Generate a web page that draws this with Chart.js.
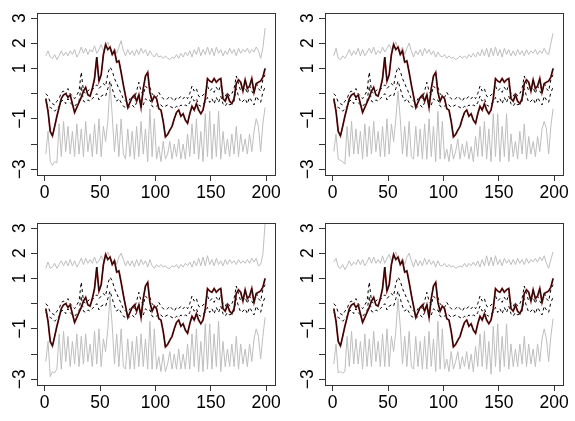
<!DOCTYPE html>
<html>
<head>
<meta charset="utf-8">
<script src="https://cdn.jsdelivr.net/npm/chart.js@4/dist/chart.umd.min.js"></script>
<style>
  body { margin: 0; background: #fff; }
  .panel { position: absolute; width: 288px; height: 211px; }
</style>
</head>
<body>
<div class="panel" style="left:0;top:0"><canvas id="p1" width="288" height="211"></canvas></div>
<div class="panel" style="left:288px;top:0"><canvas id="p2" width="288" height="211"></canvas></div>
<div class="panel" style="left:0;top:210px"><canvas id="p3" width="288" height="211"></canvas></div>
<div class="panel" style="left:288px;top:210px"><canvas id="p4" width="288" height="211"></canvas></div>
<script>
// time index 1, 3, 5, ..., 199
const xs = Array.from({ length: 100 }, (_, i) => 1 + 2 * i);

const xTicks = [0, 50, 100, 150, 200];
const yTicks = [-3, -2, -1, 0, 1, 2, 3];
const yLabels = [3, 2, 1, -1, -3];

// solid line (same in all panels)
const solid = [
  -0.2, -0.7, -1.5, -1.68, -1.3, -0.9, -0.55, -0.2, -0.05, 0.0,
  -0.15, -0.05, -0.4, -0.75, -0.55, -0.35, -0.15, 0.1, 0.25, -0.05,
  -0.1, 0.2, 0.6, 1.45, 0.5, 0.75, 1.55, 1.95, 1.75, 1.85,
  1.55, 1.7, 1.25, 1.3, 0.85, 0.35, -0.1, -0.55, -0.35, -0.15,
  -0.05, -0.3, -0.05, -0.55, 0.2, 0.7, 0.85, 0.05, -0.3, -0.1,
  -0.2, -0.6, -0.65, -1.1, -1.72, -1.62, -1.45, -1.3, -1.0, -0.75,
  -0.65, -0.9, -0.8, -1.05, -1.18, -0.8, -0.5, -0.65, -0.4, -0.65,
  -0.8, -0.65, -0.2, 0.6, 0.5, 0.45, 0.6, 0.45, 0.55, 0.6,
  -0.2, -0.3, -0.05, -0.3, -0.4, -0.2, 0.4, 0.55, 0.45, 0.1,
  0.55, 0.2, 0.3, 0.6, 0.05, 0.4, 0.45, 0.5, 0.65, 1.0
];

// dashed lines
const dashHigh = [
  0.0, -0.1, -0.35, -0.4, -0.45, -0.3, -0.2, 0.05, 0.1, -0.05,
  0.2, 0.0, -0.1, -0.2, -0.05, 0.1, 0.85, 0.1, 0.0, 0.1,
  0.2, 0.15, 0.25, 0.35, 0.2, 0.3, 0.4, 0.3, 0.8, 1.05,
  0.9, 0.6, 0.4, 0.2, 0.0, -0.2, -0.3, -0.35, -0.2, -0.1,
  -0.2, 0.1, 0.45, 0.1, -0.05, 0.3, 0.2, 0.25, 0.0, -0.1,
  -0.15, 0.05, -0.1, -0.2, -0.25, -0.2, -0.1, -0.2, -0.3, -0.15,
  -0.2, -0.1, -0.2, -0.1, -0.2, 0.0, 0.3, 0.1, 0.2, -0.1,
  -0.15, -0.05, 0.0, 0.3, 0.1, 0.2, 0.05, 0.25, 0.1, 0.35,
  0.0, -0.1, 0.05, -0.1, 0.0, 0.2, 0.7, 0.4, 0.1, 0.15,
  0.25, 0.0, 0.3, 0.1, -0.05, 0.45, 0.2, 0.1, 0.55, 0.75
];
const dashLow = [
  -0.35, -0.5, -0.55, -0.6, -0.7, -0.6, -0.5, -0.3, -0.25, -0.4,
  -0.2, -0.35, -0.45, -0.5, -0.4, -0.3, 0.3, -0.3, -0.35, -0.25,
  -0.3, -0.2, -0.1, 0.0, -0.25, -0.1, -0.05, -0.1, 0.2, 0.5,
  0.2, -0.1, -0.3, -0.2, -0.35, -0.5, -0.55, -0.6, -0.5, -0.45,
  -0.55, -0.35, 0.0, -0.35, -0.45, -0.2, -0.3, -0.25, -0.5, -0.55,
  -0.5, -0.4, -0.45, -0.55, -0.5, -0.45, -0.5, -0.55, -0.6, -0.5,
  -0.55, -0.45, -0.5, -0.45, -0.5, -0.35, -0.1, -0.3, -0.2, -0.45,
  -0.5, -0.4, -0.35, -0.15, -0.35, -0.2, -0.4, -0.15, -0.35, -0.1,
  -0.4, -0.5, -0.35, -0.45, -0.4, -0.3, 0.2, -0.1, -0.35, -0.3,
  -0.2, -0.4, -0.15, -0.3, -0.45, -0.1, -0.25, -0.35, 0.05, 0.25
];

// grey bands, one pair per panel
const upper1 = [
  1.5, 1.7, 1.45, 1.4, 1.55, 1.35, 1.5, 1.7, 1.5, 1.65,
  1.5, 1.7, 1.55, 1.75, 1.45, 1.6, 1.85, 1.6, 1.8, 1.55,
  1.75, 1.65, 1.9, 1.6, 1.75, 1.95, 1.7, 1.9, 2.05, 1.75,
  1.6, 1.8, 1.6, 1.85, 2.1, 1.7, 1.5, 1.75, 1.55, 1.7,
  1.5, 1.75, 1.55, 1.8, 1.6, 1.75, 1.5, 1.7, 1.55, 1.45,
  1.6, 1.45, 1.5, 1.4, 1.5, 1.4, 1.35, 1.45, 1.4, 1.55,
  1.4, 1.6, 1.45, 1.65, 1.5, 1.7, 1.45, 1.75, 1.55, 1.85,
  1.5, 1.75, 1.55, 1.85, 1.55, 1.8, 1.5, 1.85, 1.6, 1.75,
  1.5, 1.7, 1.55, 1.8, 1.6, 1.75, 1.5, 1.8, 1.6, 1.75,
  1.65, 1.8, 1.6, 1.75, 1.65, 1.85, 1.7, 1.4, 1.8, 2.6
];
const lower1 = [
  -2.4, -1.5, -2.7, -2.85, -2.7, -2.75, -1.2, -2.5, -1.1, -2.3,
  -1.3, -2.4, -1.5, -2.5, -1.2, -2.4, -1.4, -2.5, -1.1, -2.3,
  -1.6, -2.5, -1.2, -2.4, -1.0, -2.5, -1.3, -1.9, -1.1, 0.4,
  -0.9, -2.3, -1.2, -2.5, -1.0, -2.4, -2.6, -1.4, -2.5, -1.5,
  -2.6, -1.3, -2.5, -1.1, -2.4, -1.4, -2.7, -0.6, -2.5, -1.0,
  -2.6, -2.1, -2.7, -1.9, -2.6, -2.4, -1.9, -2.6, -2.0, -2.5,
  -1.8, -2.6, -2.0, -2.6, -1.6, -2.5, -1.2, -2.4, -1.0, -2.6,
  -1.5, -2.7, -0.8, -2.5, -0.7, -2.6, -1.2, -2.5, -0.7, -2.6,
  -1.5, -2.4, -1.8, -2.5, -1.6, -2.4, -1.3, -2.5, -1.6, -2.3,
  -1.8, -2.4, -1.6, -2.3, -1.5, -1.0, -1.3, -2.3, -1.2, -0.55
];
const upper2 = [
  1.5, 1.8, 1.4, 1.35, 1.5, 1.4, 1.55, 1.75, 1.5, 1.7,
  1.55, 1.8, 1.5, 1.75, 1.5, 1.65, 1.8, 1.6, 1.85, 1.55,
  1.7, 1.6, 1.85, 1.65, 1.8, 1.95, 1.75, 1.85, 2.05, 1.8,
  1.65, 1.85, 1.55, 1.8, 2.0, 1.7, 1.45, 1.7, 1.55, 1.75,
  1.5, 1.8, 1.6, 1.75, 1.55, 1.7, 1.45, 1.65, 1.5, 1.45,
  1.55, 1.4, 1.5, 1.4, 1.45, 1.35, 1.4, 1.5, 1.4, 1.5,
  1.4, 1.55, 1.45, 1.6, 1.45, 1.65, 1.5, 1.75, 1.5, 1.8,
  1.45, 1.8, 1.5, 1.85, 1.5, 1.75, 1.45, 1.8, 1.55, 1.75,
  1.5, 1.7, 1.5, 1.75, 1.55, 1.7, 1.5, 1.75, 1.55, 1.7,
  1.6, 1.75, 1.55, 1.7, 1.6, 1.8, 1.6, 1.55, 2.0, 2.4
];
const lower2 = [
  -2.3, -1.6, -2.6, -2.65, -2.7, -2.8, -1.3, -2.5, -1.1, -2.4,
  -1.4, -2.4, -1.5, -2.6, -1.2, -2.5, -1.3, -2.4, -1.1, -2.3,
  -1.5, -2.5, -1.3, -2.5, -1.0, -2.4, -1.2, -1.9, -1.0, 0.1,
  -1.0, -2.4, -1.3, -2.5, -1.1, -2.5, -2.6, -1.3, -2.5, -1.4,
  -2.6, -1.2, -2.6, -1.0, -2.5, -1.3, -2.7, -0.7, -2.6, -1.1,
  -2.6, -2.2, -2.7, -2.0, -2.6, -2.3, -1.8, -2.6, -2.0, -2.5,
  -1.9, -2.6, -2.1, -2.7, -1.7, -2.5, -1.3, -2.5, -1.1, -2.6,
  -1.4, -2.7, -0.8, -2.5, -0.8, -2.7, -1.3, -2.5, -0.8, -2.7,
  -1.6, -2.5, -1.9, -2.6, -1.5, -2.4, -1.2, -2.6, -1.7, -2.4,
  -1.9, -2.5, -1.7, -2.3, -1.4, -1.1, -1.4, -2.4, -1.3, -0.6
];
const upper3 = [
  1.4, 1.65, 1.4, 1.45, 1.6, 1.4, 1.55, 1.7, 1.5, 1.7,
  1.5, 1.75, 1.5, 1.7, 1.45, 1.6, 1.8, 1.55, 1.8, 1.6,
  1.75, 1.6, 1.85, 1.6, 1.7, 1.9, 1.7, 1.85, 2.05, 1.8,
  1.6, 1.75, 1.55, 1.85, 2.0, 1.75, 1.5, 1.7, 1.5, 1.7,
  1.45, 1.75, 1.5, 1.75, 1.55, 1.7, 1.45, 1.75, 1.5, 1.4,
  1.55, 1.45, 1.55, 1.45, 1.5, 1.4, 1.4, 1.5, 1.45, 1.55,
  1.4, 1.55, 1.45, 1.6, 1.5, 1.65, 1.45, 1.7, 1.5, 1.8,
  1.5, 1.85, 1.5, 1.9, 1.55, 1.75, 1.5, 1.8, 1.55, 1.7,
  1.5, 1.75, 1.55, 1.75, 1.6, 1.7, 1.55, 1.75, 1.6, 1.7,
  1.6, 1.75, 1.6, 1.8, 1.65, 1.8, 1.5, 1.55, 1.95, 3.2
];
const lower3 = [
  -2.3, -1.5, -2.9, -2.7, -2.75, -2.6, -1.2, -2.6, -1.1, -2.3,
  -1.3, -2.5, -1.5, -2.4, -1.2, -2.5, -1.3, -2.4, -1.2, -2.3,
  -1.6, -2.5, -1.1, -2.4, -1.0, -2.5, -1.4, -1.9, -1.0, 0.3,
  -0.9, -2.4, -1.2, -2.5, -1.0, -2.5, -2.6, -1.4, -2.6, -1.5,
  -2.6, -1.3, -2.5, -1.2, -2.5, -1.4, -2.6, -0.7, -2.6, -1.0,
  -2.6, -2.1, -2.7, -2.0, -2.7, -2.4, -1.9, -2.6, -2.0, -2.6,
  -1.8, -2.6, -2.0, -2.6, -1.6, -2.6, -1.2, -2.5, -1.0, -2.7,
  -1.5, -2.7, -0.8, -2.6, -0.8, -2.6, -1.2, -2.5, -0.7, -2.7,
  -1.5, -2.5, -1.8, -2.5, -1.6, -2.5, -1.3, -2.6, -1.6, -2.4,
  -1.8, -2.5, -1.6, -2.3, -1.4, -1.0, -1.3, -2.2, -1.3, -0.55
];
const upper4 = [
  1.65, 1.8, 1.45, 1.4, 1.55, 1.35, 1.5, 1.7, 1.5, 1.65,
  1.55, 1.75, 1.55, 1.75, 1.5, 1.65, 1.85, 1.6, 1.85, 1.6,
  1.75, 1.6, 1.9, 1.6, 1.8, 1.95, 1.7, 1.9, 2.05, 1.75,
  1.6, 1.8, 1.55, 1.85, 2.0, 1.7, 1.45, 1.75, 1.5, 1.7,
  1.5, 1.8, 1.55, 1.75, 1.55, 1.7, 1.45, 1.7, 1.5, 1.5,
  1.6, 1.45, 1.55, 1.45, 1.5, 1.4, 1.45, 1.5, 1.45, 1.6,
  1.45, 1.6, 1.5, 1.65, 1.5, 1.7, 1.45, 1.75, 1.5, 1.9,
  1.5, 1.85, 1.5, 1.9, 1.55, 1.75, 1.5, 1.8, 1.6, 1.75,
  1.55, 1.75, 1.55, 1.8, 1.6, 1.75, 1.55, 1.8, 1.6, 1.75,
  1.65, 1.8, 1.65, 1.85, 1.7, 1.9, 1.6, 1.4, 1.75, 2.05
];
const lower4 = [
  -2.4, -1.6, -2.75, -2.7, -2.75, -2.7, -1.3, -2.5, -1.1, -2.4,
  -1.4, -2.4, -1.5, -2.6, -1.2, -2.5, -1.4, -2.5, -1.1, -2.3,
  -1.5, -2.5, -1.2, -2.5, -1.0, -2.5, -1.3, -1.9, -1.1, 0.2,
  -0.9, -2.4, -1.3, -2.5, -1.1, -2.5, -2.6, -1.3, -2.5, -1.5,
  -2.6, -1.3, -2.6, -1.1, -2.5, -1.4, -2.7, -0.7, -2.6, -1.0,
  -2.6, -2.2, -2.7, -1.9, -2.6, -2.3, -1.9, -2.6, -2.1, -2.5,
  -1.9, -2.6, -2.0, -2.7, -1.7, -2.5, -1.2, -2.5, -1.1, -2.6,
  -1.5, -2.8, -0.9, -2.5, -0.8, -2.7, -1.3, -2.5, -0.8, -2.6,
  -1.6, -2.5, -1.8, -2.5, -1.6, -2.4, -1.3, -2.5, -1.6, -2.4,
  -1.8, -2.5, -1.6, -2.3, -1.4, -1.0, -1.4, -2.3, -1.3, -0.6
];

const FONT = "'Liberation Sans', Arial, sans-serif";
const FONT_SIZE = 17.5;
const pts = arr => xs.map((x, i) => ({ x: x, y: arr[i] }));

// order: lower number is drawn on top
const line = (arr, color, width, order, dash) => ({
  data: pts(arr),
  borderColor: color,
  borderWidth: width,
  borderDash: dash || [],
  order: order,
  pointRadius: 0,
  tension: 0,
  fill: false
});

const frame = {
  id: "frame",
  afterDraw(chart) {
    const { ctx, chartArea: a, scales } = chart;
    ctx.save();
    ctx.strokeStyle = "#333";
    ctx.lineWidth = 1;
    ctx.strokeRect(Math.round(a.left) + 0.5, Math.round(a.top) + 0.5,
      Math.round(a.right - a.left), Math.round(a.bottom - a.top));
    // rotated y labels, like base R
    ctx.fillStyle = "#000";
    ctx.font = FONT_SIZE + "px " + FONT;
    ctx.textAlign = "center";
    ctx.textBaseline = "middle";
    yLabels.forEach(v => {
      const y = scales.y.getPixelForValue(v);
      ctx.save();
      ctx.translate(20, y);
      ctx.rotate(-Math.PI / 2);
      ctx.fillText(v < 0 ? "\u2212" + Math.abs(v) : String(v), 0, 0);
      ctx.restore();
    });
    ctx.restore();
  }
};

function makePanel(id, upper, lower) {
  new Chart(document.getElementById(id), {
    type: "line",
    data: {
      datasets: [
        line(upper, "#bebebe", 1, 6),
        line(lower, "#bebebe", 1, 5),
        line(dashHigh, "#000", 1, 4, [3, 3]),
        line(dashLow, "#000", 1, 3, [3, 3]),
        line(solid, "#8a2222", 1.8, 2),
        line(solid, "#1a0505", 1, 1)
      ]
    },
    options: {
      responsive: false,
      animation: false,
      devicePixelRatio: 1,
      layout: { padding: { top: 13, right: 13, left: 0, bottom: 0 } },
      plugins: { legend: { display: false }, tooltip: { enabled: false } },
      scales: {
        x: {
          type: "linear",
          min: -6.96,
          max: 207.96,
          afterBuildTicks: s => { s.ticks = xTicks.map(v => ({ value: v })); },
          afterFit: s => { s.height = 36; },
          grid: { drawOnChartArea: false, drawTicks: true, tickLength: 6, color: "#333" },
          border: { display: false },
          ticks: { color: "#000", font: { family: FONT, size: FONT_SIZE }, padding: 2, maxRotation: 0, autoSkip: false }
        },
        y: {
          min: -3.23,
          max: 3.2,
          afterBuildTicks: s => { s.ticks = yTicks.map(v => ({ value: v })); },
          afterFit: s => { s.width = 37; },
          grid: { drawOnChartArea: false, drawTicks: true, tickLength: 6, color: "#333" },
          border: { display: false },
          ticks: { display: false }
        }
      }
    },
    plugins: [frame]
  });
}

makePanel("p1", upper1, lower1);
makePanel("p2", upper2, lower2);
makePanel("p3", upper3, lower3);
makePanel("p4", upper4, lower4);
</script>
</body>
</html>
